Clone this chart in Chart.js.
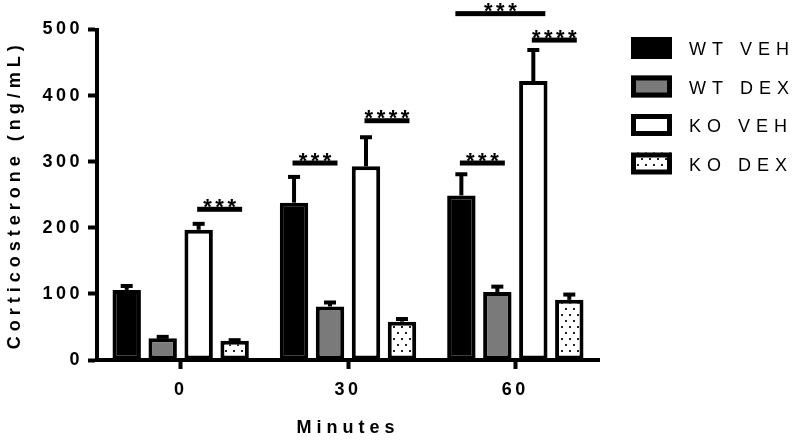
<!DOCTYPE html>
<html><head><meta charset="utf-8">
<script src="https://cdn.jsdelivr.net/npm/chart.js@4.4.1/dist/chart.umd.min.js"></script>
<style>html,body{margin:0;padding:0;background:#fff}</style>
</head><body>
<canvas id="c" width="800" height="442"></canvas>
<script>
const categories = ['0', '30', '60'];
const seriesNames = ['WT VEH', 'WT DEX', 'KO VEH', 'KO DEX'];
const wtVeh = [106, 238, 249];
const wtDex = [33, 81, 103];
const koVeh = [197, 293, 422];
const koDex = [29, 58, 91];
const wtVehSem = [6, 39, 32];
const wtDexSem = [2, 6, 8];
const koVehSem = [9, 44, 47];
const koDexSem = [1, 4, 8];
const yTicks = [0, 100, 200, 300, 400, 500];
const xTitle = 'Minutes';
const yTitle = 'Corticosterone (ng/mL)';
// significance brackets: category index, first bar, second bar, height (ng/mL), label
const sigCategory = [0, 1, 1, 2, 2, 2];
const sigFromBar = [2, 0, 2, 0, 2, 0];
const sigToBar = [3, 1, 3, 1, 3, 2];
const sigHeight = [228, 298, 362, 298, 484, 524];
const sigLabel = ['***', '***', '****', '***', '****', '***'];

const FONT = "'Liberation Sans', Arial, Helvetica, sans-serif";

function dotPattern() {
  const p = document.createElement('canvas');
  p.width = 8; p.height = 12;
  const g = p.getContext('2d');
  g.fillStyle = '#fff'; g.fillRect(0, 0, 8, 12);
  g.fillStyle = '#222';
  g.fillRect(1, 2, 2, 2);
  g.fillRect(5, 8, 2, 2);
  return document.getElementById('c').getContext('2d').createPattern(p, 'repeat');
}
const dots = dotPattern();

const values = [wtVeh, wtDex, koVeh, koDex];
const sems = [wtVehSem, wtDexSem, koVehSem, koDexSem];
const fills = ['#000000', '#7a7a7a', '#ffffff', dots];

const datasets = seriesNames.map((name, i) => ({
  label: name,
  data: values[i],
  backgroundColor: fills[i],
  borderColor: '#000',
  borderWidth: 4,
  borderSkipped: false,
  categoryPercentage: 0.86,
  barPercentage: 0.79
}));

function spaced(fn, sp) {
  return function() {
    const ctx = this.chart.ctx;
    ctx.save();
    ctx.letterSpacing = sp;
    fn.apply(this, arguments);
    ctx.restore();
  };
}

const spacingPlugin = {
  id: 'spacing',
  beforeDraw(chart) {
    ['x', 'y'].forEach(k => {
      const s = chart.scales[k];
      if (s && !s._spaced) {
        s.drawLabels = spaced(s.drawLabels, '3.5px');
        s.drawTitle = spaced(s.drawTitle, '5px');
        s._spaced = true;
      }
    });
  }
};

const errorPlugin = {
  id: 'errorBars',
  afterDatasetsDraw(chart) {
    const ctx = chart.ctx;
    const y = chart.scales.y;
    ctx.save();
    ctx.strokeStyle = '#000';
    ctx.fillStyle = '#000';
    sems.forEach((arr, i) => {
      const meta = chart.getDatasetMeta(i);
      arr.forEach((e, j) => {
        const el = meta.data[j];
        const top = y.getPixelForValue(values[i][j] + e);
        ctx.lineWidth = 4;
        ctx.beginPath();
        ctx.moveTo(el.x, el.y);
        ctx.lineTo(el.x, top);
        ctx.stroke();
        ctx.fillRect(el.x - 6, top - 2, 12, 4);
      });
    });
    ctx.restore();
  }
};

const sigPlugin = {
  id: 'sig',
  afterDraw(chart) {
    const ctx = chart.ctx;
    const y = chart.scales.y;
    ctx.save();
    ctx.fillStyle = '#000';
    sigCategory.forEach((c, k) => {
      const x1 = chart.getDatasetMeta(sigFromBar[k]).data[c].x;
      const x2 = chart.getDatasetMeta(sigToBar[k]).data[c].x;
      const mid = (x1 + x2) / 2 + 3;
      const half = 0.625 * Math.abs(x2 - x1);
      const py = y.getPixelForValue(sigHeight[k]);
      ctx.fillRect(mid - half, py - 2.5, 2 * half, 5);
      ctx.font = 'bold 22px ' + FONT;
      ctx.letterSpacing = '3.5px';
      ctx.textAlign = 'center';
      ctx.textBaseline = 'alphabetic';
      ctx.fillText(sigLabel[k], mid + 1.75, py + 4.5);
    });
    ctx.restore();
  }
};

const legendPlugin = {
  id: 'customLegend',
  afterDraw(chart) {
    const ctx = chart.ctx;
    ctx.save();
    seriesNames.forEach((name, i) => {
      const cy = 48 + i * 38.5;
      const bx = 631, bw = 41, bh = 22;
      ctx.fillStyle = fills[i];
      ctx.fillRect(bx, cy - bh / 2, bw, bh);
      ctx.strokeStyle = '#000';
      ctx.lineWidth = 5;
      ctx.strokeRect(bx + 2.5, cy - bh / 2 + 2.5, bw - 5, bh - 5);
      ctx.fillStyle = '#000';
      ctx.font = '18px ' + FONT;
      ctx.letterSpacing = '6px';
      ctx.textAlign = 'left';
      ctx.textBaseline = 'middle';
      ctx.fillText(name, 689, cy + 2.5);
    });
    ctx.restore();
  }
};

new Chart(document.getElementById('c'), {
  type: 'bar',
  data: { labels: categories, datasets },
  plugins: [spacingPlugin, errorPlugin, sigPlugin, legendPlugin],
  options: {
    responsive: false,
    animation: false,
    devicePixelRatio: 1,
    layout: { padding: { top: 29.5, right: 201, left: 0, bottom: 0 } },
    plugins: { legend: { display: false }, tooltip: { enabled: false } },
    scales: {
      x: {
        offset: true,
        grid: { display: true, drawOnChartArea: false, offset: false, tickLength: 9, tickWidth: 4, color: '#000' },
        border: { display: true, width: 4, color: '#000' },
        ticks: { color: '#000', font: { family: FONT, size: 18, weight: 'bold' }, padding: 10 },
        title: { display: true, text: xTitle, color: '#000', font: { family: FONT, size: 18, weight: 'bold' }, padding: { top: 4, bottom: 3.5 } },
        afterFit: s => { s.height = 82; }
      },
      y: {
        min: 0, max: 500,
        afterBuildTicks: s => { s.ticks = yTicks.map(v => ({ value: v })); },
        grid: { display: true, drawOnChartArea: false, tickLength: 9, tickWidth: 4, color: '#000' },
        border: { display: true, width: 4, color: '#000' },
        ticks: { color: '#000', font: { family: FONT, size: 18, weight: 'bold' }, padding: 5 },
        title: { display: true, text: yTitle, color: '#000', font: { family: FONT, size: 18, weight: 'bold' }, padding: { top: 4, bottom: 4 } },
        afterFit: s => { s.width = 97; }
      }
    }
  }
});
</script>
</body></html>
